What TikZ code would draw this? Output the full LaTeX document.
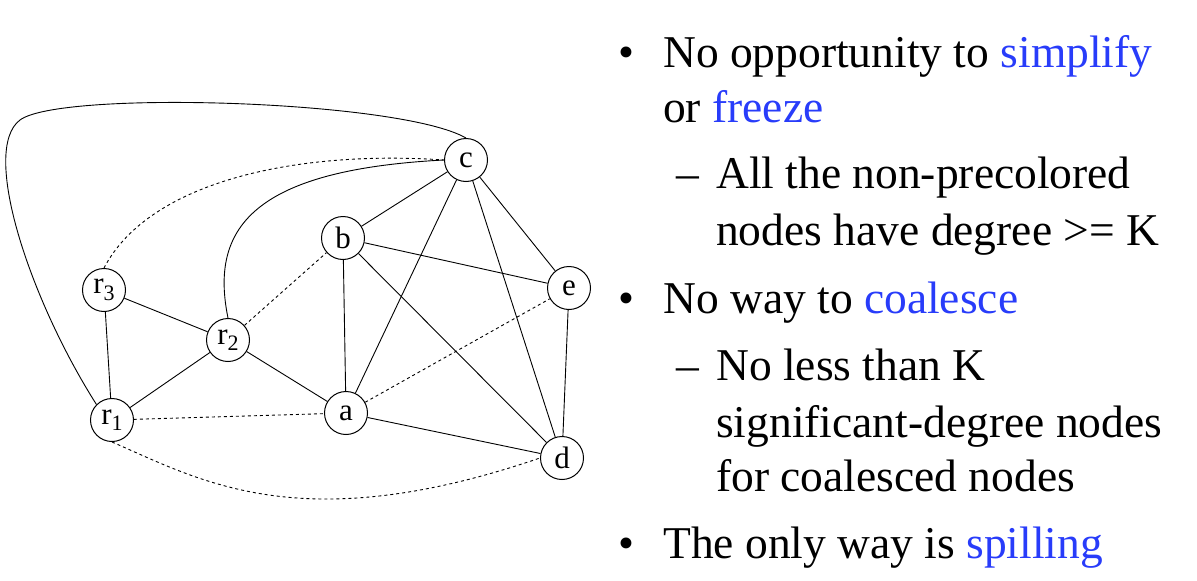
\documentclass[tikz,border=0pt]{standalone}
\usepackage{fontspec}
\setmainfont{Liberation Serif}
\usetikzlibrary{positioning}
\definecolor{kwblue}{RGB}{40,60,250}
\newcommand{\sub}[1]{\raisebox{-0.45ex}{\fontsize{22}{22}\selectfont #1}}
\tikzset{
  vtx/.style={draw, circle, line width=1pt, minimum size=43pt, inner sep=0pt, font=\fontsize{31}{31}\selectfont},
  edge/.style={line width=0.9pt},
  dedge/.style={line width=0.9pt, dashed},
  txt/.style={anchor=base west, inner sep=0pt, font=\fontsize{45.5}{48}\selectfont}
}
\begin{document}
\begin{tikzpicture}[x=1pt,y=-1pt]
      \useasboundingbox (0,0) rectangle (1197,581);
      % nodes
      \node[vtx]       (c)  at (466,160) {c};
      \node[vtx]       (b)  at (343,238) {b};
      \node[vtx]       (e)  at (569,288) {e};
      \node[vtx]       (r3) at (104,290) {r\sub{3}};
      \node[vtx]       (r2) at (228,340) {r\sub{2}};
      \node[vtx]       (a)  at (346,413) {a};
      \node[vtx]       (r1) at (112,420) {r\sub{1}};
      \node[vtx]       (d)  at (562,458) {d};

      % solid edges
      \draw[edge]      (c) -- (b);
      \draw[edge]      (c) -- (e);
      \draw[edge]      (c) -- (a);
      \draw[edge]      (c) -- (d);
      \draw[edge]      (b) -- (a);
      \draw[edge]      (b) -- (e);
      \draw[edge]      (b) -- (d);
      \draw[edge]      (e) -- (d);
      \draw[edge]      (a) -- (d);
      \draw[edge]      (r3) -- (r2);
      \draw[edge]      (r3) -- (r1);
      \draw[edge]      (r1) -- (r2);
      \draw[edge]      (r2) -- (a);
      \draw[edge]      (r2.north) .. controls (210,230) and (250,170) .. (c.west);
      \draw[edge]      (r1.north west) .. controls (30,300) and (-20,150) .. (20,120)
                        .. controls (60,90) and (400,100) .. (c.north);

      % dashed edges
      \draw[dedge]     (r3.north) .. controls (150,180) and (300,150) .. (c.west);
      \draw[dedge]     (r2) -- (b);
      \draw[dedge]     (r1) -- (a);
      \draw[dedge]     (a) -- (e);
      \draw[dedge]     (r1.south) .. controls (200,480) and (300,540) .. (d.west);

      % text
      \node[txt]       (b1) at (618,67)  {•};
      \node[txt]       (t1) at (663,67)  {No opportunity to \textcolor{kwblue}{simplify}};
      \node[txt]       (t2) at (663,122) {or \textcolor{kwblue}{freeze}};
      \node[txt]       (d1) at (676,188) {–};
      \node[txt]       (t3) at (716,188) {All the non-precolored};
      \node[txt]       (t4) at (716,245) {nodes have degree >= K};
      \node[txt]       (b2) at (618,313) {•};
      \node[txt]       (t5) at (663,313) {No way to \textcolor{kwblue}{coalesce}};
      \node[txt]       (d2) at (676,380) {–};
      \node[txt]       (t6) at (716,380) {No less than K};
      \node[txt]       (t7) at (716,437) {significant-degree nodes};
      \node[txt]       (t8) at (716,491) {for coalesced nodes};
      \node[txt]       (b3) at (618,558) {•};
      \node[txt]       (t9) at (663,558) {The only way is \textcolor{kwblue}{spilling}};
\end{tikzpicture}
\end{document}
